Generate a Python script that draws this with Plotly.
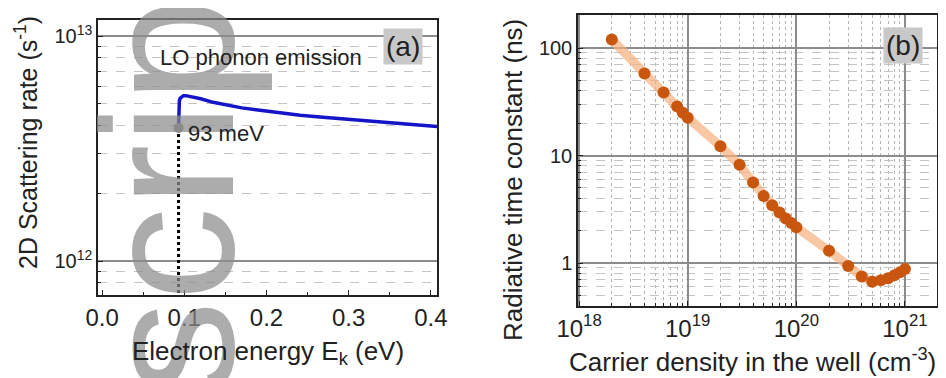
import plotly.graph_objects as go

W, H = 946, 378
OFF = 8  # page body margin of the html page
FONT = "Liberation Sans, Arial, sans-serif"

# ---------- data: panel (a) ----------
energy_eV = [0.093, 0.0931, 0.0935, 0.094, 0.095, 0.097, 0.099, 0.102, 0.11, 0.12, 0.135,
             0.152, 0.17, 0.192, 0.215, 0.241, 0.265, 0.29, 0.32, 0.35, 0.38, 0.41]
scatter_rate = [3.91e12, 4.4e12, 4.9e12, 5.15e12, 5.3e12, 5.4e12, 5.44e12, 5.44e12, 5.37e12, 5.27e12, 5.08e12,
                4.92e12, 4.80e12, 4.68e12, 4.56e12, 4.45e12, 4.37e12, 4.30e12, 4.21e12, 4.13e12, 4.05e12, 3.96e12]
threshold_E = [0.093, 0.093]
threshold_rate = [3.91e12, 7.0e11]
a_xticks = [0.0, 0.1, 0.2, 0.3, 0.4]
a_xticktext = ["0.0", "0.1", "0.2", "0.3", "0.4"]
a_yticks = [1e12, 1e13]
a_yticktext = ["10<sup>12</sup>", "10<sup>13</sup>"]

# ---------- data: panel (b) ----------
density = [2e18, 4e18, 6e18, 8e18, 9e18, 1e19, 2e19, 3e19, 4e19, 5e19, 6e19, 7e19, 8e19, 9e19,
           1e20, 2e20, 3e20, 4e20, 5e20, 6e20, 7e20, 8e20, 9e20, 1e21]
tau_ns = [120, 58, 38.5, 28.5, 25, 22.5, 12.2, 8.2, 5.6, 4.2, 3.45, 2.95, 2.6, 2.35,
          2.15, 1.3, 0.94, 0.75, 0.67, 0.69, 0.72, 0.77, 0.82, 0.88]
b_xticks = [1e18, 1e19, 1e20, 1e21]
b_xticktext = ["10<sup>18</sup>", "10<sup>19</sup>", "10<sup>20</sup>", "10<sup>21</sup>"]
b_yticks = [1, 10, 100]
b_yticktext = ["1", "10", "100"]


def px(x):
    return (x - OFF) / W


def py(y):
    return 1 - (y - OFF) / H


def minor_log(lo, hi):
    vals = []
    for d in range(lo, hi + 1):
        for m in range(2, 10):
            vals.append(float(m) * 10.0 ** d)
    return vals


fig = go.Figure()

# panel (a)
fig.add_trace(go.Scatter(x=threshold_E, y=threshold_rate, mode="lines",
                         line=dict(color="black", width=3, dash="dot"),
                         xaxis="x", yaxis="y", showlegend=False))
fig.add_trace(go.Scatter(x=energy_eV, y=scatter_rate, mode="lines",
                         line=dict(color="#1414c8", width=3.5),
                         xaxis="x", yaxis="y", showlegend=False))
fig.add_trace(go.Scatter(x=energy_eV[:1], y=scatter_rate[:1], mode="markers",
                         marker=dict(color="#8a8a8a", size=10),
                         xaxis="x", yaxis="y", showlegend=False))

# panel (b)
fig.add_trace(go.Scatter(x=density, y=tau_ns, mode="lines+markers",
                         line=dict(color="rgba(245,175,125,0.7)", width=9),
                         marker=dict(color="#c9560f", size=12),
                         xaxis="x2", yaxis="y2", showlegend=False))

axis_common = dict(showline=True, linecolor="#222", linewidth=1.5, mirror=True,
                   ticks="inside", ticklen=5, tickcolor="#222", zeroline=False,
                   automargin=False)

fig.update_layout(
    width=W, height=H,
    margin=dict(l=0, r=0, t=0, b=0, autoexpand=False),
    paper_bgcolor="white", plot_bgcolor="white",
    font=dict(family=FONT, color="#222"),
    xaxis=dict(domain=[px(98), px(437)], range=[-0.005, 0.4075], anchor="y",
               tickvals=a_xticks, ticktext=a_xticktext, tickfont=dict(size=24),
               showgrid=False,
               minor=dict(tickvals=[0.05, 0.15, 0.25, 0.35], ticks="inside", ticklen=3,
                          tickcolor="#222", showgrid=False),
               **axis_common),
    yaxis=dict(domain=[py(295), py(20)], type="log", range=[11.849, 13.072], anchor="x",
               tickvals=a_yticks, ticktext=a_yticktext, tickfont=dict(size=20),
               showgrid=True, gridcolor="#8c8c8c", gridwidth=1.5,
               minor=dict(tickvals=minor_log(11, 12), ticks="inside", ticklen=3,
                          tickcolor="#222", showgrid=True, griddash="dash",
                          gridcolor="#c4c4c4", gridwidth=1),
               **axis_common),
    xaxis2=dict(domain=[px(578), px(937)], type="log", range=[17.99, 21.295], anchor="y2",
                tickvals=b_xticks, ticktext=b_xticktext, tickfont=dict(size=24),
                showgrid=True, gridcolor="#8c8c8c", gridwidth=1.5,
                minor=dict(tickvals=minor_log(18, 20), ticks="inside", ticklen=3,
                           tickcolor="#222", showgrid=True, griddash="dot",
                           gridcolor="#b4b4b4", gridwidth=1),
                **axis_common),
    yaxis2=dict(domain=[py(306), py(15)], type="log", range=[-0.4, 2.307], anchor="x2",
                tickvals=b_yticks, ticktext=b_yticktext, tickfont=dict(size=20),
                showgrid=True, gridcolor="#8c8c8c", gridwidth=1.5,
                minor=dict(tickvals=minor_log(-1, 2), ticks="inside", ticklen=3,
                           tickcolor="#222", showgrid=True, griddash="dash",
                           gridcolor="#c4c4c4", gridwidth=1),
                **axis_common),
)


def note(x, y, text, size, **kw):
    d = dict(x=px(x), y=py(y), xref="paper", yref="paper", text=text,
             showarrow=False, xanchor="center", yanchor="middle",
             font=dict(family=FONT, size=size, color=kw.pop("color", "#222")))
    d.update(kw)
    return d


ann = [
    # watermark
    note(168, 171, "script", 188, textangle=-90, color="rgba(140,140,140,0.72)"),
    # panel texts
    note(261, 57, "LO phonon emission", 22),
    note(226, 133, "93 meV", 22),
    note(403, 47, "(a)", 28, bgcolor="#c8c8c8", borderpad=2),
    note(903, 45, "(b)", 28, bgcolor="#c8c8c8", borderpad=2),
    # axis titles
    note(268, 352, "Electron energy E<sub>k</sub> (eV)", 26),
    note(26, 143, "2D Scattering rate (s<sup>-1</sup>)", 25, textangle=-90),
    note(752, 360, "Carrier density in the well (cm<sup>-3</sup>)", 26),
    note(513, 180, "Radiative time constant (ns)", 26, textangle=-90),
]
fig.update_layout(annotations=ann)

fig.write_html("out.html")
